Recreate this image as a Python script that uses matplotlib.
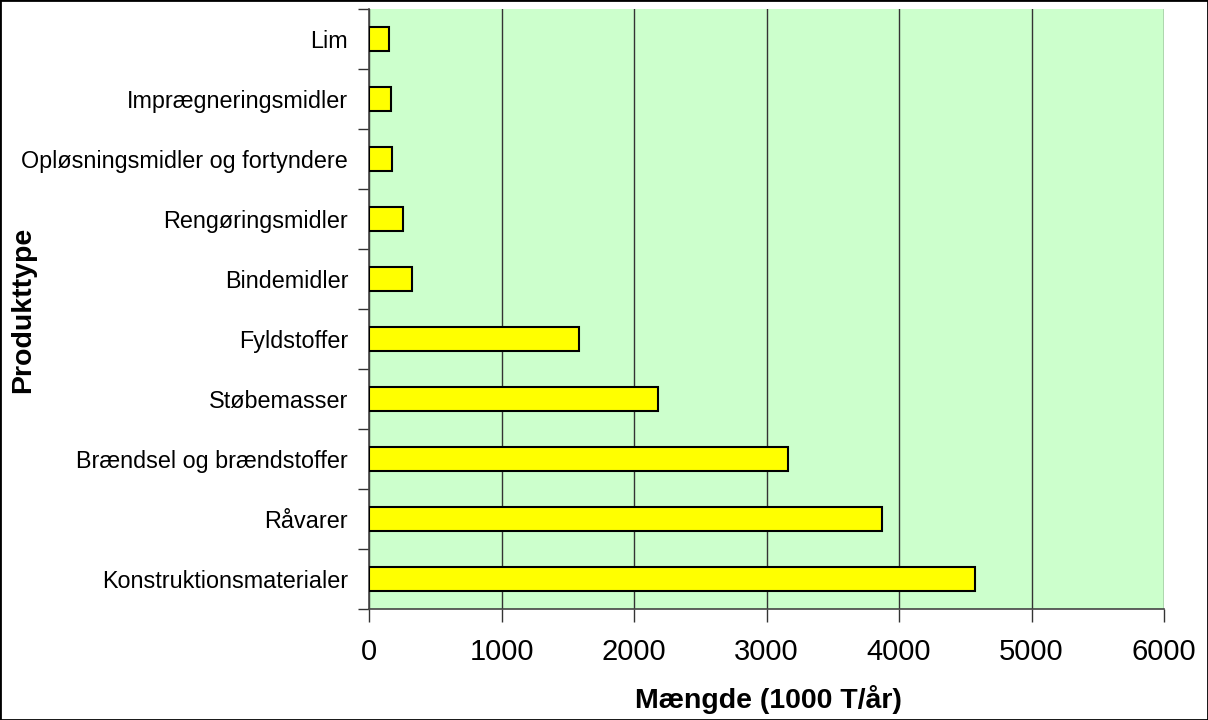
import numpy as np
import matplotlib.pyplot as plt
from matplotlib.patches import Rectangle

plt.rcParams['font.family'] = ['Liberation Sans', 'DejaVu Sans']

kategorier = ["Konstruktionsmaterialer", "Råvarer", "Brændsel og brændstoffer",
              "Støbemasser", "Fyldstoffer", "Bindemidler", "Rengøringsmidler",
              "Opløsningsmidler og fortyndere", "Imprægneringsmidler", "Lim"]
maengde = [4570, 3875, 3165, 2183, 1585, 327, 259, 176, 164, 151]

fig = plt.figure(figsize=(12.08, 7.2), dpi=100)
ax = fig.add_axes([369/1208, 1 - 609/720, (1164 - 369)/1208, (609 - 9)/720])

y = np.arange(len(kategorier))
ax.barh(y, maengde, height=0.4, color='#ffff00', edgecolor='black', linewidth=1.5, zorder=3)

ax.set_facecolor('#ccffcc')
ax.set_xlim(0, 6000)
ax.set_ylim(-0.5, len(kategorier) - 0.5)
ax.set_xticks(np.arange(0, 6001, 1000))
ax.grid(axis='x', color='#333333', linewidth=1, zorder=1)

ax.set_yticks(y)
ax.set_yticklabels(kategorier, fontsize=16.8)
ax.set_yticks(np.arange(-0.5, len(kategorier), 1), minor=True)
ax.tick_params(axis='y', which='major', length=0, pad=15)
ax.tick_params(axis='y', which='minor', length=8, width=1, color='#333333')
ax.tick_params(axis='x', length=9, width=1, color='#333333', labelsize=21, pad=12)

for s in ['top', 'right']:
    ax.spines[s].set_visible(False)
for s in ['left', 'bottom']:
    ax.spines[s].set_color('#444444')
    ax.spines[s].set_linewidth(1.2)

# aksetitler placeret direkte i figuren
fig.text(768/1208, 20/720, "Mængde (1000 T/år)", fontsize=20.5, fontweight='bold',
         ha='center', va='center')
fig.text(23/1208, 1 - 310/720, "Produkttype", fontsize=20.5, fontweight='bold',
         ha='center', va='center', rotation=90)

fig.patches.append(Rectangle((0, 0), 1, 1, transform=fig.transFigure, fill=False,
                             edgecolor='black', linewidth=2))

fig.savefig('out.png', dpi=100)
